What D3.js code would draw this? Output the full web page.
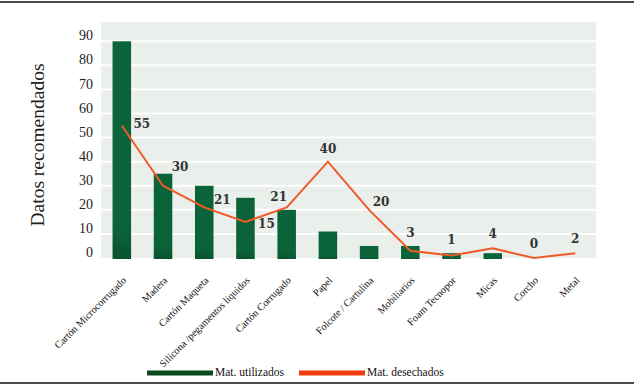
<!DOCTYPE html>
<html>
<head>
<meta charset="utf-8">
<script src="https://cdn.jsdelivr.net/npm/d3@7"></script>
<style>
  body { margin: 0; background: #fff; }
  svg { display: block; }
</style>
</head>
<body>
<div id="chart"></div>
<script>
// data
const categories = ["Cartón Microcorrugado", "Madera", "Cartón Maqueta", "Silicona /pegamentos liquidos",
    "Cartón Corrugado", "Papel", "Folcote / Cartulina", "Mobiliarios", "Foam Tecnopor", "Micas", "Corcho", "Metal"];
const utilizados = [90, 35, 30, 25, 20, 11, 5, 5, 2, 2, 0, 0];
const desechados = [55, 30, 21, 15, 21, 40, 20, 3, 1, 4, 0, 2];
const yTicks = [0, 10, 20, 30, 40, 50, 60, 70, 80, 90];
const seriesNames = ["Mat. utilizados", "Mat. desechados"];

// label nudges so numbers sit where they do in the original
const labelOffsets = [[20, 2], [17, -15], [18, -3], [21, 6], [-8, -6], [0, -9], [12, -4], [0, -14], [0, -12], [0, -10], [0, -10], [0, -10]];

const W = 634, H = 387;
const plot = {left: 101, right: 596, top: 22, bottom: 258};

const svg = d3.select("#chart").append("svg")
    .attr("width", W)
    .attr("height", H);

const defs = svg.append("defs");
const grad = defs.append("linearGradient").attr("id", "barGrad")
    .attr("x1", 0).attr("y1", 0).attr("x2", 0).attr("y2", 1);
grad.append("stop").attr("offset", "0%").attr("stop-color", "#0b6439");
grad.append("stop").attr("offset", "85%").attr("stop-color", "#0b6439");
grad.append("stop").attr("offset", "100%").attr("stop-color", "#0a5230");

// frame lines top & bottom
svg.append("line").attr("x1", 0).attr("x2", W).attr("y1", 2).attr("y2", 2)
    .attr("stroke", "#111").attr("stroke-width", 1.5);
svg.append("line").attr("x1", 0).attr("x2", W).attr("y1", 383).attr("y2", 383)
    .attr("stroke", "#111").attr("stroke-width", 1.5);

const x = d3.scaleBand()
    .domain(categories)
    .range([plot.left, plot.right])
    .paddingInner(0.55)
    .paddingOuter(0.28);

const y = d3.scaleLinear()
    .domain([0, 98])
    .range([plot.bottom, plot.top]);

// plot background
svg.append("rect")
    .attr("x", plot.left).attr("y", plot.top)
    .attr("width", plot.right - plot.left)
    .attr("height", plot.bottom - plot.top)
    .attr("fill", "#ebefeb");

// white gridlines
svg.append("g")
    .selectAll("line")
    .data(yTicks.filter(d => d > 0))
    .join("line")
    .attr("x1", plot.left).attr("x2", plot.right)
    .attr("y1", d => y(d)).attr("y2", d => y(d))
    .attr("stroke", "#fff").attr("stroke-width", 2);

// y axis (labels only)
const yAxis = svg.append("g")
    .attr("transform", `translate(${plot.left},0)`)
    .call(d3.axisLeft(y).tickValues(yTicks).tickSize(0).tickPadding(8));
yAxis.select(".domain").remove();
yAxis.selectAll("text")
    .attr("font-family", "'Liberation Serif', serif")
    .attr("font-size", "14px")
    .attr("fill", "#222")
    .attr("dy", "-0.1em");

// axis title
svg.append("text")
    .attr("transform", `translate(44,145) rotate(-90)`)
    .attr("text-anchor", "middle")
    .attr("font-family", "'Liberation Serif', serif")
    .attr("font-size", "19.5px")
    .attr("fill", "#222")
    .text("Datos recomendados");

// bars
svg.append("g")
    .selectAll("rect")
    .data(categories)
    .join("rect")
    .attr("x", d => x(d))
    .attr("y", (d, i) => y(utilizados[i]))
    .attr("width", x.bandwidth())
    .attr("height", (d, i) => utilizados[i] > 0 ? y(0) - y(utilizados[i]) + 1 : 0)
    .attr("fill", "url(#barGrad)");

// line
const cx = d => x(d) + x.bandwidth() / 2;
const line = d3.line()
    .x(d => cx(d.cat))
    .y(d => y(d.v));
const lineData = categories.map((c, i) => ({cat: c, v: desechados[i]}));

svg.append("path")
    .datum(lineData)
    .attr("fill", "none")
    .attr("stroke", "#f05a28")
    .attr("stroke-width", 2)
    .attr("d", line);

// data labels
svg.append("g")
    .selectAll("text")
    .data(lineData)
    .join("text")
    .attr("x", (d, i) => cx(d.cat) + labelOffsets[i][0])
    .attr("y", (d, i) => y(d.v) + labelOffsets[i][1])
    .attr("text-anchor", "middle")
    .attr("font-family", "'DejaVu Serif', serif")
    .attr("font-weight", "bold")
    .attr("font-size", "12px")
    .attr("fill", "#333")
    .text(d => d.v);

// category labels
svg.append("g")
    .selectAll("text")
    .data(categories)
    .join("text")
    .attr("transform", d => `translate(${cx(d) + 5},${plot.bottom + 23}) rotate(-45)`)
    .attr("text-anchor", "end")
    .attr("font-family", "'Liberation Serif', serif")
    .attr("font-size", "10.2px")
    .attr("fill", "#111")
    .text(d => d);

// legend
const legend = svg.append("g");
const legendItems = [
    {name: seriesNames[0], color: "#0b4a1f", x: 147},
    {name: seriesNames[1], color: "#f03c0c", x: 299}
];
legendItems.forEach(it => {
    legend.append("rect")
        .attr("x", it.x).attr("y", 370.5)
        .attr("width", 66).attr("height", 5)
        .attr("fill", it.color);
    legend.append("text")
        .attr("x", it.x + 68).attr("y", 376)
        .attr("font-family", "'Liberation Serif', serif")
        .attr("font-size", "11.5px")
        .attr("fill", "#111")
        .text(it.name);
});
</script>
</body>
</html>
